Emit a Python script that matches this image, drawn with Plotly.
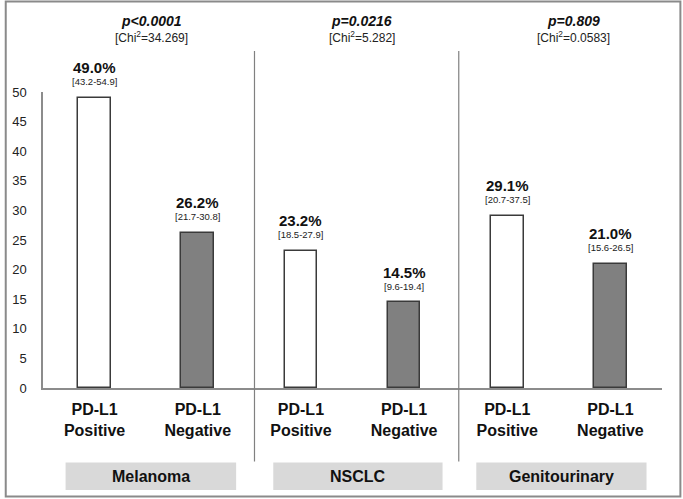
import plotly.graph_objects as go

# ---- data ----
cancers = ["Melanoma", "NSCLC", "Genitourinary"]
groups = ["PD-L1<br>Positive", "PD-L1<br>Negative"] * 3
values = [49.0, 26.2, 23.2, 14.5, 29.1, 21.0]
ci_labels = ["[43.2-54.9]", "[21.7-30.8]", "[18.5-27.9]", "[9.6-19.4]", "[20.7-37.5]", "[15.6-26.5]"]
p_labels = ["p<0.0001", "p=0.0216", "p=0.809"]
chi_labels = ["34.269", "5.282", "0.0583"]
y_ticks = [0, 5, 10, 15, 20, 25, 30, 35, 40, 45, 50]

FONT = "Arial, Liberation Sans, sans-serif"
W, H = 683, 499
ML, MR, MT, MB = 39, 21, 92, 111
PW, PH = W - ML - MR, H - MT - MB
XR = (-0.5, 5.5)


def px_to_paper_x(px):
    return (px - ML) / PW


def px_to_paper_y(py):
    return (H - MB - py) / PH


def data_to_paper_x(x):
    return (x - XR[0]) / (XR[1] - XR[0])


xs = list(range(len(values)))
fills = ["white" if i % 2 == 0 else "#808080" for i in xs]

fig = go.Figure()
fig.add_trace(go.Bar(
    x=xs, y=values, width=0.318,
    marker=dict(color=fills, line=dict(color="#3a3a3a", width=1.5)),
    hoverinfo="skip", showlegend=False,
))

annotations = []
for x, v, ci in zip(xs, values, ci_labels):
    annotations.append(dict(x=x, y=v, xref="x", yref="y", text=f"<b>{v:.1f}%</b>",
                            showarrow=False, xanchor="center", yanchor="middle", yshift=30,
                            font=dict(family=FONT, size=15, color="#111")))
    annotations.append(dict(x=x, y=v, xref="x", yref="y", text=ci,
                            showarrow=False, xanchor="center", yanchor="middle", yshift=16,
                            font=dict(family=FONT, size=9.5, color="#222")))

title_x_px = [148, 360, 573]
box_ranges = [(-0.281, 1.372), (1.732, 3.373), (3.70, 5.35)]
shapes = []
for i, c in enumerate(cancers):
    annotations.append(dict(x=px_to_paper_x(title_x_px[i]), y=px_to_paper_y(20.5),
                            xref="paper", yref="paper", text=f"<b><i>{p_labels[i]}</i></b>",
                            showarrow=False, xanchor="center", yanchor="middle",
                            font=dict(family=FONT, size=14, color="#111")))
    annotations.append(dict(x=px_to_paper_x(title_x_px[i]), y=px_to_paper_y(36.5),
                            xref="paper", yref="paper",
                            text=f"[Chi<sup>2</sup>={chi_labels[i]}]",
                            showarrow=False, xanchor="center", yanchor="middle",
                            font=dict(family=FONT, size=12, color="#222")))
    b0, b1 = box_ranges[i]
    shapes.append(dict(type="rect", xref="paper", yref="paper",
                       x0=data_to_paper_x(b0), x1=data_to_paper_x(b1),
                       y0=px_to_paper_y(490), y1=px_to_paper_y(462.5),
                       fillcolor="#d9d9d9", line=dict(width=0), layer="below"))
    annotations.append(dict(x=(data_to_paper_x(b0) + data_to_paper_x(b1)) / 2,
                            y=px_to_paper_y(476.5), xref="paper", yref="paper",
                            text=f"<b>{c}</b>", showarrow=False,
                            xanchor="center", yanchor="middle",
                            font=dict(family=FONT, size=16, color="#111")))

for sx in [1.55, 3.53]:
    shapes.append(dict(type="line", xref="paper", yref="paper",
                       x0=data_to_paper_x(sx), x1=data_to_paper_x(sx),
                       y0=px_to_paper_y(461.5), y1=px_to_paper_y(51),
                       line=dict(color="#808080", width=1.2)))

# outer border
shapes.append(dict(type="rect", xref="paper", yref="paper",
                   x0=px_to_paper_x(1.5), x1=px_to_paper_x(680.5),
                   y0=px_to_paper_y(496.5), y1=px_to_paper_y(1.5),
                   line=dict(color="#8a8a8a", width=2), fillcolor="rgba(0,0,0,0)"))

fig.update_layout(
    width=W, height=H,
    margin=dict(l=ML, r=MR, t=MT, b=MB, pad=0),
    plot_bgcolor="white", paper_bgcolor="white",
    bargap=0,
    annotations=annotations, shapes=shapes,
    xaxis=dict(range=list(XR), tickvals=xs, ticktext=[f"<b>{g}</b>" for g in groups],
               showline=True, linecolor="#8c8c8c", linewidth=1.5, ticks="",
               showgrid=False, zeroline=False, ticklabelstandoff=6,
               tickfont=dict(family=FONT, size=16, color="#111"), fixedrange=True),
    yaxis=dict(range=[0, 50], tickvals=y_ticks, showline=True, linecolor="#8c8c8c",
               linewidth=1.5, ticks="", showgrid=False, zeroline=False,
               ticklabelstandoff=12,
               tickfont=dict(family=FONT, size=13, color="#222"), fixedrange=True),
)

fig.write_html("out.html", config={"displayModeBar": False},
               post_script="document.body.style.margin='0';document.body.style.overflow='hidden';")
